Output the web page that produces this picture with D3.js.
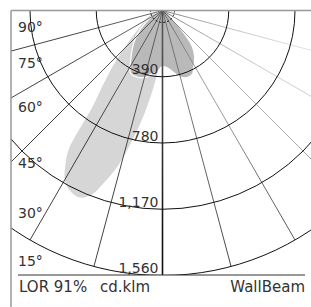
<!DOCTYPE html>
<html>
<head>
<meta charset="utf-8">
<script src="https://cdn.jsdelivr.net/npm/d3@7"></script>
<style>
  html, body { margin: 0; padding: 0; background: #fff; }
  text { font-family: "DejaVu Sans", sans-serif; font-size: 14px; fill: #333; }
  text.foot { font-size: 15px; }
</style>
</head>
<body>
<svg id="chart"></svg>
<script>
// ring values (cd/klm) and their labels
const ringValues = [390, 780, 1170, 1560];
const ringLabels = ["390", "780", "1,170", "1,560"];
// angle ticks on the left (degrees from nadir)
const angleTicks = [90, 75, 60, 45, 30, 15];
// radial grid lines, degrees from nadir (+ = left)
const gridAngles = [-90, -75, -60, -45, -30, -15, 0, 15, 30, 45, 60, 75, 90];

// light lobe (wide plane)
const lightAngles = [90, 80, 70, 60, 50, 45, 42, 38, 36, 35, 34, 32, 30, 27, 24, 21, 19, 16, 13, 10, 7, 4, 0, -5, -10, -20, -30, -45, -60, -90];
const lightValues = [0, 30, 70, 120, 220, 330, 430, 590, 700, 850, 990, 1080, 1150, 1195, 1205, 1160, 1080, 950, 780, 620, 470, 350, 250, 180, 140, 100, 60, 20, 5, 0];

// dark lobe (cross plane)
const darkAngles = [90, 70, 60, 50, 45, 40, 35, 30, 27, 22, 15, 10, 5, 0, -5, -10, -15, -20, -25, -30, -35, -40, -45, -50, -65, -90];
const darkValues = [0, 30, 80, 170, 220, 270, 320, 380, 415, 420, 410, 380, 360, 330, 340, 370, 405, 420, 415, 370, 330, 270, 150, 80, 30, 0];

const width = 311, height = 307;
const cx = 162.5, cy = 10.5;
const left = 11, bottom = 275;

const svg = d3.select("#chart").attr("width", width).attr("height", height);

const r = d3.scaleLinear().domain([0, 1560]).range([0, 265]);
const toRad = d => d * Math.PI / 180;

const defs = svg.append("defs");
defs.append("clipPath").attr("id", "plot")
  .append("rect").attr("x", left).attr("y", cy).attr("width", width - left).attr("height", bottom - cy);

// spokes fade from light grey at the centre to black at the rim
const grad = defs.append("radialGradient").attr("id", "fade")
  .attr("gradientUnits", "userSpaceOnUse")
  .attr("cx", cx).attr("cy", cy).attr("r", r(1560));
[[0, "#eeeeee"], [0.3, "#bdbdbd"], [0.5, "#8a8a8a"], [0.65, "#444"], [1, "#111"]].forEach(s =>
  grad.append("stop").attr("offset", s[0]).attr("stop-color", s[1]));

const g = svg.append("g").attr("clip-path", "url(#plot)");
const plot = g.append("g").attr("transform", `translate(${cx},${cy})`);

const radial = d3.lineRadial()
  .angle(d => Math.PI + toRad(d[0]))
  .radius(d => r(d[1]))
  .curve(d3.curveCatmullRomClosed.alpha(0.5));

plot.append("path")
  .attr("d", radial(d3.zip(lightAngles, lightValues)))
  .attr("fill", "#d6d6d6");

plot.append("path")
  .attr("d", radial(d3.zip(darkAngles, darkValues)))
  .attr("fill", "#b9b9b9")
  .attr("stroke", "#fff")
  .attr("stroke-width", 1.2);

// radial grid
plot.selectAll("line.spoke").data(gridAngles).join("line")
  .attr("class", "spoke")
  .attr("x1", 0).attr("y1", 0)
  .attr("x2", d => -r(1560) * Math.sin(toRad(d)))
  .attr("y2", d => r(1560) * Math.cos(toRad(d)))
  .attr("stroke", "url(#fade)")
  .attr("stroke-width", d => d === 0 ? 1.6 : 0.8);

// rings
plot.selectAll("circle.ring").data(ringValues).join("circle")
  .attr("class", "ring")
  .attr("r", d => r(d))
  .attr("fill", "none")
  .attr("stroke", "#111")
  .attr("stroke-width", 1);

plot.append("circle")
  .attr("r", 12)
  .attr("fill", "none")
  .attr("stroke", "#111")
  .attr("stroke-width", 1)
  .attr("stroke-dasharray", "2,2");

// ring labels
svg.selectAll("text.ring").data(ringValues).join("text")
  .attr("class", "ring")
  .attr("x", cx - 4)
  .attr("y", d => cy + r(d) - 2.5)
  .attr("text-anchor", "end")
  .text((d, i) => ringLabels[i]);

// angle labels
const labelY = d3.scaleLinear().domain([15, 30, 45, 60, 75, 90]).range([266, 218, 168, 112, 68, 32]);
svg.selectAll("text.ang").data(angleTicks).join("text")
  .attr("class", "ang")
  .attr("x", 18)
  .attr("y", d => labelY(d))
  .text(d => d + "°");

// frame
svg.append("line").attr("x1", left).attr("x2", width).attr("y1", cy).attr("y2", cy)
  .attr("stroke", "#999").attr("stroke-width", 1.5);
svg.append("line").attr("x1", left).attr("x2", left).attr("y1", cy).attr("y2", height)
  .attr("stroke", "#999").attr("stroke-width", 1.5);
svg.append("line").attr("x1", 18).attr("x2", 305).attr("y1", bottom).attr("y2", bottom)
  .attr("stroke", "#333").attr("stroke-width", 1);

svg.append("text").attr("class", "foot").attr("x", 19).attr("y", 292).text("LOR 91%");
svg.append("text").attr("class", "foot").attr("x", 100).attr("y", 292).text("cd.klm");
svg.append("text").attr("class", "foot").attr("x", 305).attr("y", 292).attr("text-anchor", "end").text("WallBeam");
</script>
</body>
</html>
